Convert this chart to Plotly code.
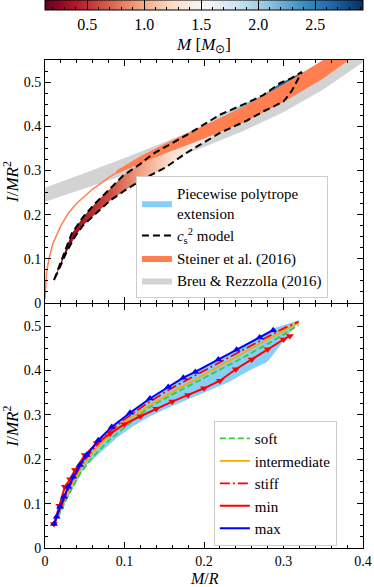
import plotly.graph_objects as go
from plotly.colors import sample_colorscale

# ---------------- data ----------------
mass_min, mass_max = 0.13, 2.92
rdbu = ["rgb(103,0,31)", "rgb(178,24,43)", "rgb(214,96,77)", "rgb(244,165,130)",
        "rgb(253,219,199)", "rgb(247,247,247)", "rgb(209,229,240)", "rgb(146,197,222)",
        "rgb(67,147,195)", "rgb(33,102,172)", "rgb(5,48,97)"]
mass_major = [0.5, 1.0, 1.5, 2.0, 2.5]
mass_ticks = [0.2, 0.3, 0.4, 0.5, 0.6, 0.7, 0.8, 0.9, 1.0, 1.1, 1.2, 1.3, 1.4, 1.5, 1.6, 1.7,
              1.8, 1.9, 2.0, 2.1, 2.2, 2.3, 2.4, 2.5, 2.6, 2.7, 2.8, 2.9]

# top panel: c_s^2 model envelope
cs2_upper_x = [0.0113, 0.023, 0.0335, 0.048, 0.065, 0.082, 0.098, 0.12, 0.136, 0.178,
               0.22, 0.254, 0.275, 0.296, 0.31, 0.323]
cs2_upper_y = [0.052, 0.108, 0.157, 0.195, 0.229, 0.259, 0.288, 0.315, 0.338, 0.38,
               0.426, 0.453, 0.471, 0.498, 0.509, 0.523]
cs2_lower_x = [0.0113, 0.0147, 0.027, 0.0377, 0.048, 0.065, 0.082, 0.103, 0.124, 0.151,
               0.178, 0.22, 0.254, 0.275, 0.30, 0.31, 0.323]
cs2_lower_y = [0.052, 0.065, 0.115, 0.15, 0.176, 0.205, 0.232, 0.258, 0.281, 0.306,
               0.34, 0.385, 0.413, 0.434, 0.456, 0.479, 0.523]
# stellar mass of the samples along M/R (colour of the cloud)
cloud_x = [0.0113, 0.04, 0.08, 0.12, 0.16, 0.20, 0.24, 0.28, 0.323]
cloud_mass = [0.15, 0.35, 0.6, 0.95, 1.3, 1.6, 2.0, 2.4, 2.8]

# Steiner et al. (2016)
steiner_x = [0.09, 0.12, 0.15, 0.2, 0.25, 0.3, 0.35, 0.4]
steiner_lo = [0.292, 0.316, 0.338, 0.372, 0.409, 0.455, 0.508, 0.573]
steiner_hi = [0.300, 0.332, 0.360, 0.402, 0.445, 0.495, 0.55, 0.617]
steiner_line_x = [0.0, 0.002, 0.005, 0.01, 0.02, 0.03, 0.04, 0.06, 0.08, 0.1, 0.12, 0.14]
steiner_line_y = [0.01, 0.07, 0.10, 0.135, 0.175, 0.205, 0.226, 0.258, 0.284, 0.306, 0.325, 0.342]

# Breu & Rezzolla (2016)
breu_x = [0.0, 0.05, 0.1, 0.15, 0.2, 0.25, 0.3, 0.35, 0.4]
breu_lo = [0.229, 0.259, 0.289, 0.320, 0.353, 0.390, 0.432, 0.483, 0.545]
breu_hi = [0.261, 0.294, 0.328, 0.364, 0.401, 0.443, 0.491, 0.548, 0.619]

# bottom panel: piecewise polytrope extension region
ppe_upper_x = [0.0113, 0.03, 0.05, 0.07, 0.09, 0.11, 0.13, 0.15, 0.17, 0.2, 0.23, 0.26, 0.287, 0.32]
ppe_upper_y = [0.056, 0.142, 0.206, 0.25, 0.283, 0.31, 0.336, 0.358, 0.38, 0.41, 0.438, 0.468, 0.495, 0.514]
ppe_lower_x = [0.0113, 0.03, 0.05, 0.07, 0.09, 0.11, 0.13, 0.15, 0.17, 0.2, 0.23, 0.26, 0.28, 0.32]
ppe_lower_y = [0.05, 0.118, 0.183, 0.215, 0.248, 0.274, 0.295, 0.312, 0.328, 0.35, 0.373, 0.403, 0.42, 0.513]

eos_x = [0.0113, 0.02, 0.03, 0.045, 0.06, 0.08, 0.1, 0.13, 0.16, 0.19, 0.22, 0.25, 0.28, 0.30, 0.319]
soft_y = [0.05, 0.082, 0.122, 0.17, 0.205, 0.242, 0.271, 0.316, 0.346, 0.374, 0.402, 0.43, 0.46, 0.481, 0.503]
inter_y = [0.054, 0.092, 0.132, 0.181, 0.216, 0.253, 0.283, 0.32, 0.352, 0.381, 0.41, 0.44, 0.47, 0.49, 0.508]
stiff_y = [0.054, 0.094, 0.136, 0.186, 0.222, 0.26, 0.29, 0.328, 0.361, 0.39, 0.419, 0.447, 0.476, 0.495, 0.51]

min_x = [0.0113, 0.018, 0.025, 0.0315, 0.0377, 0.05, 0.065, 0.082, 0.1, 0.12, 0.14, 0.16,
         0.18, 0.2, 0.22, 0.24, 0.26, 0.28, 0.3, 0.308]
min_y = [0.054, 0.095, 0.138, 0.155, 0.176, 0.2095, 0.236, 0.258, 0.279, 0.297, 0.314, 0.33,
         0.345, 0.36, 0.377, 0.403, 0.425, 0.448, 0.470, 0.478]
max_x = [0.0113, 0.0147, 0.0189, 0.0239, 0.0293, 0.0356, 0.044, 0.0524, 0.067, 0.0839, 0.107,
         0.132, 0.155, 0.174, 0.189, 0.218, 0.241, 0.270, 0.287]
max_y = [0.054, 0.0705, 0.093, 0.1155, 0.138, 0.1606, 0.187, 0.2095, 0.243, 0.273, 0.305,
         0.337, 0.363, 0.384, 0.397, 0.425, 0.447, 0.4745, 0.491]

# ---------------- figure ----------------
FONT = "Liberation Serif, Times New Roman, serif"
cscale = [[i / (len(rdbu) - 1), c] for i, c in enumerate(rdbu)]
contour_x = cs2_upper_x + cs2_lower_x[::-1]
contour_y = cs2_upper_y + cs2_lower_y[::-1]

# fill gradient following the mass along M/R
x0, x1 = cloud_x[0], cloud_x[-1]
cloud_scale = [
    [(x - x0) / (x1 - x0),
     sample_colorscale(cscale, [(m - mass_min) / (mass_max - mass_min)])[0]]
    for x, m in zip(cloud_x, cloud_mass)
]

fig = go.Figure()

# --- top panel ---
fig.add_trace(go.Scatter(
    x=breu_x + breu_x[::-1], y=breu_lo + breu_hi[::-1],
    fill="toself", fillcolor="rgba(200,200,200,0.8)", line=dict(width=0),
    mode="lines", name="Breu & Rezzolla (2016)", legend="legend", legendrank=4,
    hoverinfo="skip", xaxis="x", yaxis="y",
))
fig.add_trace(go.Scatter(
    x=contour_x, y=contour_y, fill="toself", mode="lines", line=dict(width=0),
    fillgradient=dict(type="horizontal", start=x0, stop=x1, colorscale=cloud_scale),
    showlegend=False, hoverinfo="skip", xaxis="x", yaxis="y",
))
fig.add_trace(go.Scatter(
    x=steiner_x + steiner_x[::-1], y=steiner_lo + steiner_hi[::-1],
    fill="toself", fillcolor="coral", line=dict(width=0),
    mode="lines", name="Steiner et al. (2016)", legend="legend", legendrank=3,
    hoverinfo="skip", xaxis="x", yaxis="y",
))
fig.add_trace(go.Scatter(
    x=steiner_line_x, y=steiner_line_y, mode="lines", line=dict(color="coral", width=1.5),
    showlegend=False, hoverinfo="skip", xaxis="x", yaxis="y",
))
fig.add_trace(go.Scatter(
    x=contour_x, y=contour_y, mode="lines",
    line=dict(color="black", width=2, dash="7px,4px"),
    name="<i>c</i><sub>s</sub><sup>2</sup> model", legend="legend", legendrank=2,
    xaxis="x", yaxis="y",
))

# colour bar: colours, short ticks and labels; full-height majors on a transparent overlay
fig.add_trace(go.Scatter(
    x=[None], y=[None], mode="markers", showlegend=False, xaxis="x", yaxis="y",
    marker=dict(color=[1.5], cmin=mass_min, cmax=mass_max, colorscale=cscale, showscale=True,
                colorbar=dict(orientation="h", x=0.5, xanchor="center", len=1, lenmode="fraction",
                              y=1, yref="container", yanchor="top", thickness=10, xpad=0, ypad=0,
                              outlinewidth=0, ticks="inside", ticklen=3, tickcolor="black",
                              tickvals=mass_ticks,
                              ticktext=[f"{v:.1f}" if v in mass_major else "" for v in mass_ticks],
                              tickfont=dict(size=16, family=FONT),
                              title=dict(text="<i>M</i> [<i>M</i><sub>⊙</sub>]", side="bottom",
                                         font=dict(size=17, family=FONT)))),
))
fig.add_trace(go.Scatter(
    x=[None], y=[None], mode="markers", showlegend=False, xaxis="x", yaxis="y",
    marker=dict(color=[1.5], cmin=mass_min, cmax=mass_max,
                colorscale=[[0, "rgba(0,0,0,0)"], [1, "rgba(0,0,0,0)"]], showscale=True,
                colorbar=dict(orientation="h", x=0.5, xanchor="center", len=1, lenmode="fraction",
                              y=1, yref="container", yanchor="top", thickness=10, xpad=0, ypad=0,
                              outlinewidth=1, outlinecolor="black", ticks="inside", ticklen=10,
                              tickcolor="black", tickvals=mass_major, showticklabels=False)),
))

# --- bottom panel ---
fig.add_trace(go.Scatter(
    x=ppe_upper_x + ppe_lower_x[::-1], y=ppe_upper_y + ppe_lower_y[::-1],
    fill="toself", fillcolor="lightskyblue", line=dict(width=0), mode="lines",
    name="Piecewise polytrope<br>extension", legend="legend", legendrank=1,
    hoverinfo="skip", xaxis="x2", yaxis="y2",
))
fig.add_trace(go.Scatter(
    x=eos_x, y=soft_y, mode="lines", name="soft", legend="legend2", legendrank=1,
    line=dict(color="limegreen", width=1.8, dash="6px,3px"), xaxis="x2", yaxis="y2",
))
fig.add_trace(go.Scatter(
    x=eos_x, y=inter_y, mode="lines", name="intermediate", legend="legend2", legendrank=2,
    line=dict(color="orange", width=1.8), xaxis="x2", yaxis="y2",
))
fig.add_trace(go.Scatter(
    x=eos_x, y=stiff_y, mode="lines", name="stiff", legend="legend2", legendrank=3,
    line=dict(color="red", width=1.8, dash="10px,3px,2px,3px"), xaxis="x2", yaxis="y2",
))
fig.add_trace(go.Scatter(
    x=min_x, y=min_y, mode="lines", name="min", legend="legend2", legendrank=4,
    line=dict(color="red", width=2), xaxis="x2", yaxis="y2",
))
fig.add_trace(go.Scatter(
    x=min_x, y=min_y, mode="markers", showlegend=False,
    marker=dict(symbol="triangle-down", color="red", size=7), xaxis="x2", yaxis="y2",
))
fig.add_trace(go.Scatter(
    x=max_x, y=max_y, mode="lines", name="max", legend="legend2", legendrank=5,
    line=dict(color="blue", width=2), xaxis="x2", yaxis="y2",
))
fig.add_trace(go.Scatter(
    x=max_x, y=max_y, mode="markers", showlegend=False,
    marker=dict(symbol="triangle-up", color="blue", size=7), xaxis="x2", yaxis="y2",
))

axis_common = dict(
    showline=True, linecolor="black", linewidth=1, mirror="allticks", ticks="inside",
    ticklen=6, tickcolor="black", showgrid=False, zeroline=False, automargin=False,
    tickfont=dict(size=14, family=FONT),
)
x_minor = dict(ticks="inside", ticklen=3, tickcolor="black", dtick=0.02, showgrid=False)
y_minor = dict(ticks="inside", ticklen=3, tickcolor="black", dtick=0.025, showgrid=False)
ytitle = dict(text="<i>I</i>/<i>MR</i><sup>2</sup>", font=dict(size=17, family=FONT), standoff=8)

legend_common = dict(
    bgcolor="white", bordercolor="#cccccc", borderwidth=1,
    font=dict(size=15, family=FONT, color="black"), xanchor="left", yanchor="top",
    tracegroupgap=0, itemwidth=30,
)

fig.update_layout(
    width=374, height=587,
    margin=dict(l=45, r=11, t=60, b=39, autoexpand=False),
    paper_bgcolor="white", plot_bgcolor="white",
    font=dict(family=FONT, color="black"),
    xaxis=dict(domain=[0, 1], anchor="y", range=[0, 0.4], dtick=0.1, showticklabels=False,
               minor=x_minor, matches="x2", **axis_common),
    yaxis=dict(domain=[0.502, 1], anchor="x", range=[0, 0.55], dtick=0.1, minor=y_minor,
               title=ytitle, **axis_common),
    xaxis2=dict(domain=[0, 1], anchor="y2", range=[0, 0.4], dtick=0.1, minor=x_minor,
                **axis_common),
    yaxis2=dict(domain=[0, 0.5], anchor="x2", range=[0, 0.55], dtick=0.1, minor=y_minor,
                title=ytitle, **axis_common),
    legend=dict(x=0.286, y=0.762, **legend_common),
    legend2=dict(x=0.531, y=0.26, **legend_common),
    annotations=[dict(text="<i>M</i>/<i>R</i>", xref="paper", yref="paper", x=0.5, y=-0.04,
                      xanchor="center", yanchor="top", showarrow=False,
                      font=dict(size=16, family=FONT))],
)

# the page's default body margin would shift the figure by 8px
fig.write_html("out.html", config={"displayModeBar": False},
               post_script="document.body.style.margin = '0';")
